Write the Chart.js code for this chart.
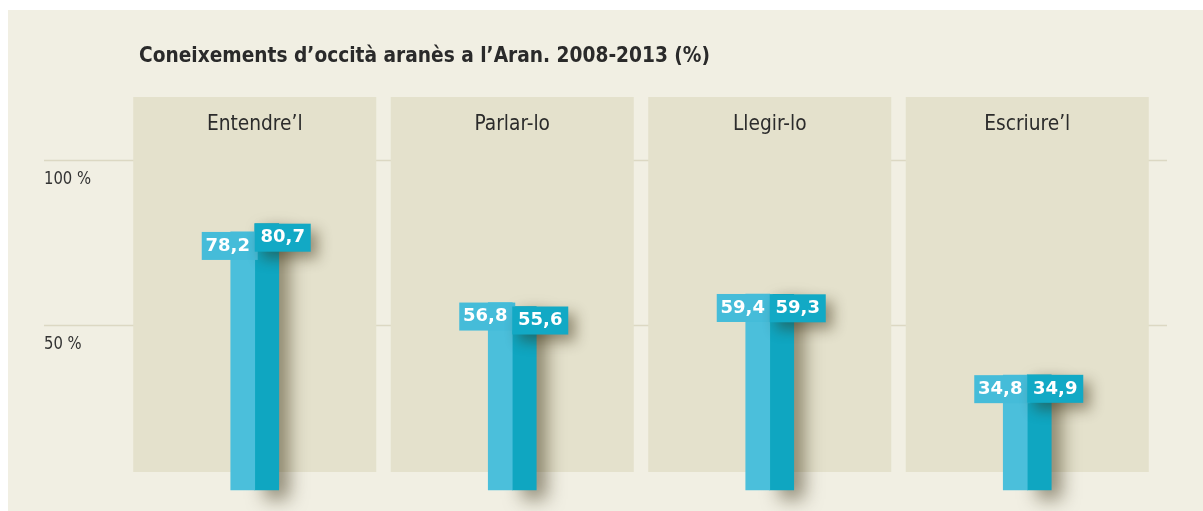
<!DOCTYPE html>
<html>
<head>
<meta charset="utf-8">
<script src="https://cdn.jsdelivr.net/npm/chart.js@4/dist/chart.umd.min.js"></script>
<style>
  html, body { margin: 0; background: #fff; }
</style>
</head>
<body>
<canvas id="chart" width="1203" height="511"></canvas>
<script>
const title = "Coneixements d’occità aranès a l’Aran. 2008-2013 (%)";
const skills = ["Entendre’l", "Parlar-lo", "Llegir-lo", "Escriure’l"];
const years = ["2008", "2013"];
const values2008 = [78.2, 56.8, 59.4, 34.8];
const values2013 = [80.7, 55.6, 59.3, 34.9];
const yTicks = [50, 100];

const NARROW = "'Liberation Sans Narrow', 'DejaVu Sans Condensed', 'Liberation Sans', sans-serif";
const lightBlue = "#4bbfdb";
const darkBlue = "#0fa6c1";

function fmt(v) {
    return v.toFixed(1).replace(".", ",");
}

// squeeze text a little, the original uses a condensed face
function narrowText(ctx, text, x, y, squeeze) {
    ctx.save();
    ctx.translate(x, y);
    ctx.scale(squeeze, 1);
    ctx.fillText(text, 0, 0);
    ctx.restore();
}

// background, panels, grid lines, titles
const decor = {
    id: "decor",
    beforeDraw(chart) {
        const ctx = chart.ctx;
        const x = chart.scales.x;
        const y = chart.scales.y;
        ctx.save();
        ctx.fillStyle = "#f1efe3";
        ctx.fillRect(8, 10, chart.width - 8, chart.height - 10);

        ctx.strokeStyle = "#dcd8c3";
        ctx.lineWidth = 1.5;
        ctx.font = "17px " + NARROW;
        ctx.textAlign = "left";
        ctx.textBaseline = "top";
        yTicks.forEach(v => {
            const py = Math.round(y.getPixelForValue(v)) + 0.5;
            ctx.beginPath();
            ctx.moveTo(44, py);
            ctx.lineTo(1167, py);
            ctx.stroke();
            ctx.fillStyle = "#333";
            narrowText(ctx, v + " %", 44, py + 11, 0.97);
        });

        skills.forEach((s, i) => {
            const cx = x.getPixelForValue(i);
            ctx.fillStyle = "#e4e1cc";
            ctx.fillRect(cx - 121.5, 97, 243, 375);
            ctx.fillStyle = "#2b2b2b";
            ctx.font = "22px " + NARROW;
            ctx.textAlign = "center";
            ctx.textBaseline = "middle";
            narrowText(ctx, s, cx, 124, 0.94);
        });

        ctx.fillStyle = "#2a2a2a";
        ctx.font = "bold 22px " + NARROW;
        ctx.textAlign = "left";
        ctx.textBaseline = "middle";
        narrowText(ctx, title, 139, 56, 0.94);
        ctx.restore();
    },
    beforeDatasetDraw(chart, args) {
        if (args.index === 1) {
            const ctx = chart.ctx;
            ctx.save();
            ctx.shadowColor = "rgba(50, 40, 10, 0.5)";
            ctx.shadowBlur = 18;
            ctx.shadowOffsetX = 10;
            ctx.shadowOffsetY = 9;
        }
    },
    afterDatasetDraw(chart, args) {
        if (args.index === 1) chart.ctx.restore();
    },
    afterDatasetsDraw(chart) {
        const ctx = chart.ctx;
        const light = chart.getDatasetMeta(0).data;
        const dark = chart.getDatasetMeta(1).data;
        ctx.save();
        ctx.font = "bold 18px 'DejaVu Sans', sans-serif";
        ctx.textAlign = "center";
        ctx.textBaseline = "middle";
        light.forEach((bar, i) => {
            const edge = bar.x + bar.width / 2;
            ctx.fillStyle = "#45bcd9";
            ctx.fillRect(edge - 53, bar.y, 56, 28);
            ctx.fillStyle = "#fff";
            ctx.fillText(fmt(values2008[i]), edge - 27, bar.y + 14);
        });
        dark.forEach((bar, i) => {
            const edge = bar.x - bar.width / 2;
            ctx.save();
            ctx.shadowColor = "rgba(50, 40, 10, 0.45)";
            ctx.shadowBlur = 14;
            ctx.shadowOffsetX = 7;
            ctx.shadowOffsetY = 7;
            ctx.fillStyle = "#12a9c5";
            ctx.fillRect(edge, bar.y, 56, 28);
            ctx.restore();
            ctx.fillStyle = "#fff";
            ctx.fillText(fmt(values2013[i]), edge + 28, bar.y + 14);
        });
        ctx.restore();
    }
};

new Chart(document.getElementById("chart"), {
    type: "bar",
    data: {
        labels: skills,
        datasets: [
            { label: years[0], data: values2008, backgroundColor: lightBlue, barThickness: 24, clip: false },
            { label: years[1], data: values2013, backgroundColor: darkBlue, barThickness: 24, clip: false }
        ]
    },
    options: {
        responsive: false,
        animation: false,
        layout: { padding: { left: 126, right: 47, top: 160, bottom: 21 } },
        plugins: { legend: { display: false }, tooltip: { enabled: false } },
        scales: {
            x: { display: false, grid: { display: false } },
            y: { display: false, min: 0, max: 100 }
        }
    },
    plugins: [decor]
});
</script>
</body>
</html>
